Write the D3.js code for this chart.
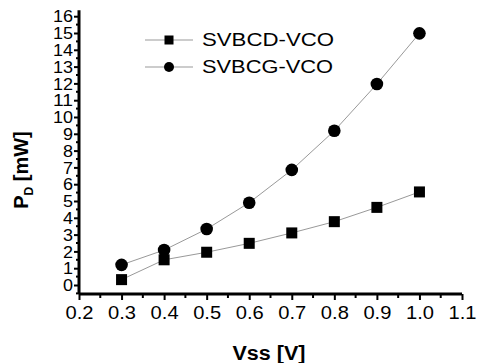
<!DOCTYPE html>
<html>
<head>
<meta charset="utf-8">
<script src="https://cdn.jsdelivr.net/npm/d3@7/dist/d3.min.js"></script>
<style>
  body { margin: 0; background: #fff; }
  svg { display: block; font-family: "Liberation Sans", Arial, sans-serif; }
</style>
</head>
<body>
<div id="chart"></div>
<script>
var vss = [0.3, 0.4, 0.5, 0.6, 0.7, 0.8, 0.9, 1.0];
var svbcd = [0.32, 1.5, 1.95, 2.48, 3.1, 3.77, 4.62, 5.54];
var svbcg = [1.2, 2.08, 3.33, 4.9, 6.85, 9.18, 11.96, 14.98];
var seriesNames = ["SVBCD-VCO", "SVBCG-VCO"];
var xTicks = [0.2, 0.3, 0.4, 0.5, 0.6, 0.7, 0.8, 0.9, 1.0, 1.1];
var yTicks = d3.range(0, 17);

var width = 482, height = 363;
var margin = {top: 10, right: 20, bottom: 69, left: 79};

var svg = d3.select("#chart").append("svg")
  .attr("width", width)
  .attr("height", height);

var x = d3.scaleLinear().domain([0.2, 1.1]).range([margin.left, 462]);
var y = d3.scaleLinear().domain([0, 16]).range([285, 16.2]);
var yBottom = 294;

var g = svg.append("g");

// x axis
var xAxis = g.append("g")
  .attr("transform", "translate(0," + yBottom + ")")
  .call(d3.axisBottom(x).tickValues(xTicks).tickFormat(d3.format(".1f")).tickSize(6).tickSizeOuter(0));
// minor x ticks
g.append("g").selectAll("line")
  .data(d3.range(0.25, 1.1, 0.1))
  .enter().append("line")
  .attr("x1", function(d) { return x(d); })
  .attr("x2", function(d) { return x(d); })
  .attr("y1", yBottom)
  .attr("y2", yBottom + 4)
  .attr("stroke", "black")
  .attr("stroke-width", 2);

// y axis
var yAxis = g.append("g")
  .attr("transform", "translate(" + margin.left + ",0)")
  .call(d3.axisLeft(y).tickValues(yTicks).tickFormat(d3.format("d")).tickSize(5).tickSizeOuter(0));
g.append("g").selectAll("line")
  .data(d3.range(-0.5, 16.5, 1))
  .enter().append("line")
  .attr("x1", margin.left)
  .attr("x2", margin.left - 3)
  .attr("y1", function(d) { return y(d); })
  .attr("y2", function(d) { return y(d); })
  .attr("stroke", "black")
  .attr("stroke-width", 2);

[xAxis, yAxis].forEach(function(a) {
  a.select(".domain").style("stroke", "black").style("stroke-width", "3px");
  a.selectAll(".tick line").style("stroke", "black").style("stroke-width", "2px");
  a.selectAll("text").attr("fill", "black")
    .style("font-family", "'Liberation Sans', Arial, sans-serif");
});
// extend y axis line down to the x axis
yAxis.select(".domain").attr("d", "M0," + y(16.35) + "V" + yBottom);
xAxis.select(".domain").attr("d", "M" + margin.left + ",0H" + x(1.1));
xAxis.selectAll("text")
  .attr("dy", "0.85em")
  .style("font-size", "19px")
  .attr("textLength", 28)
  .attr("lengthAdjust", "spacingAndGlyphs");
yAxis.selectAll("text")
  .attr("x", -6).attr("dy", "0.36em")
  .style("font-size", "16px")
  .attr("textLength", function(d) { return d >= 10 ? 20 : 10; })
  .attr("lengthAdjust", "spacingAndGlyphs");

// axis titles
svg.append("text")
  .attr("x", 269).attr("y", 360)
  .attr("text-anchor", "middle")
  .attr("font-weight", "bold")
  .attr("font-size", 20)
  .attr("textLength", 73)
  .attr("lengthAdjust", "spacingAndGlyphs")
  .text("Vss [V]");

var yt = svg.append("text")
  .attr("transform", "translate(28,170) rotate(-90)")
  .attr("text-anchor", "middle")
  .attr("font-weight", "bold")
  .attr("font-size", 20);
yt.append("tspan").text("P");
yt.append("tspan").attr("font-size", 12).attr("dy", 5).text("D");
yt.append("tspan").attr("dy", -5).text(" [mW]");

// lines
var line = d3.line()
  .x(function(d) { return x(d[0]); })
  .y(function(d) { return y(d[1]); });

var dataSets = [svbcd, svbcg].map(function(s) {
  return vss.map(function(v, i) { return [v, s[i]]; });
});

dataSets.forEach(function(ds) {
  svg.append("path")
    .datum(ds)
    .attr("fill", "none")
    .attr("stroke", "#999")
    .attr("stroke-width", 1)
    .attr("d", line);
});

// markers
svg.append("g").selectAll("rect")
  .data(dataSets[0])
  .enter().append("rect")
  .attr("x", function(d) { return x(d[0]) - 5.5; })
  .attr("y", function(d) { return y(d[1]) - 5.5; })
  .attr("width", 11)
  .attr("height", 11)
  .attr("fill", "black");

svg.append("g").selectAll("circle")
  .data(dataSets[1])
  .enter().append("circle")
  .attr("cx", function(d) { return x(d[0]); })
  .attr("cy", function(d) { return y(d[1]); })
  .attr("r", 6.3)
  .attr("fill", "black");

// legend
var legend = svg.append("g");
seriesNames.forEach(function(name, i) {
  var ly = 40 + i * 27;
  legend.append("line")
    .attr("x1", 145).attr("x2", 193)
    .attr("y1", ly).attr("y2", ly)
    .attr("stroke", "#999").attr("stroke-width", 1);
  if (i === 0) {
    legend.append("rect")
      .attr("x", 169 - 4.5).attr("y", ly - 4.5)
      .attr("width", 9).attr("height", 9)
      .attr("fill", "black");
  } else {
    legend.append("circle")
      .attr("cx", 169).attr("cy", ly).attr("r", 5)
      .attr("fill", "black");
  }
  legend.append("text")
    .attr("x", 202).attr("y", ly)
    .attr("dy", "0.36em")
    .attr("font-size", 18)
    .attr("textLength", i === 0 ? 132 : 131)
    .attr("lengthAdjust", "spacingAndGlyphs")
    .text(name);
});
</script>
</body>
</html>
